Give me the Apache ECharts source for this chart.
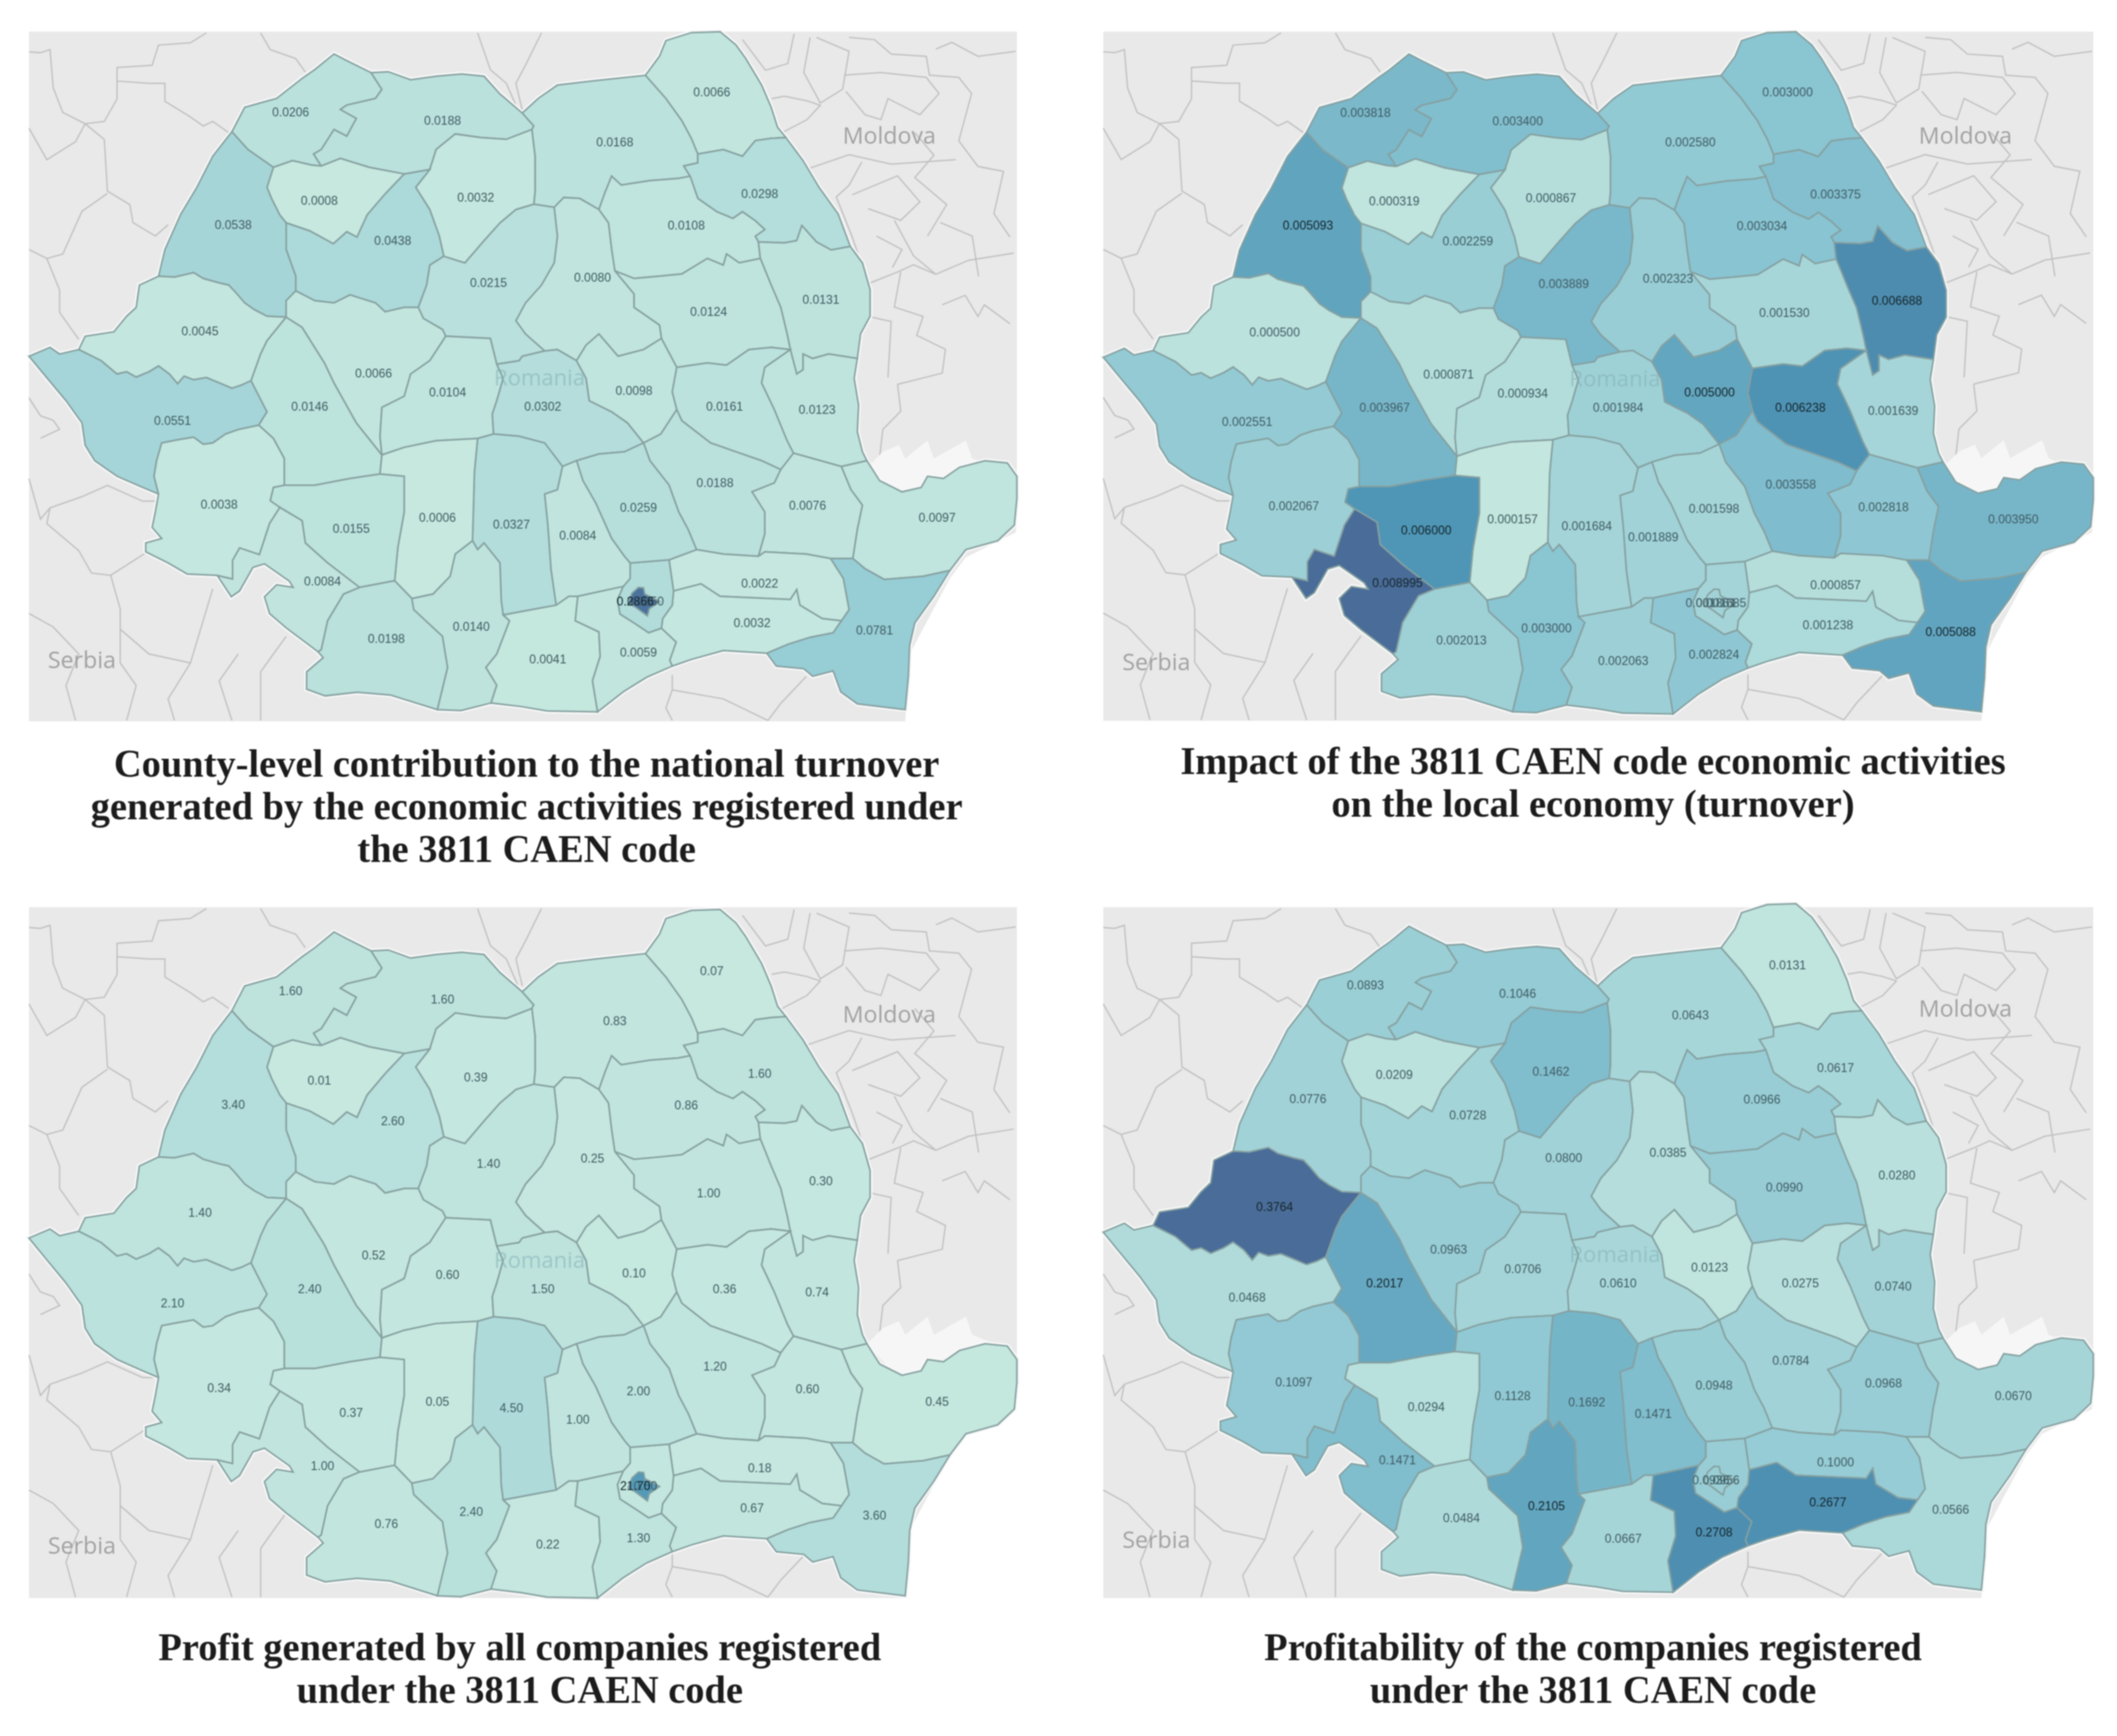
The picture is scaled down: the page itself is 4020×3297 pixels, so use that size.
<!DOCTYPE html>
<html>
<head>
<meta charset="utf-8">
<title>3811 CAEN code maps</title>
<script src="https://cdn.jsdelivr.net/npm/echarts@6/dist/echarts.min.js"></script>
<style>
html, body { margin: 0; padding: 0; background: #fff; }
#chart { width: 4020px; height: 3297px; filter: blur(1.3px); }
</style>
</head>
<body>
<div id="chart"></div>
<script>
var counties = ['Satu Mare', 'Maramures', 'Suceava', 'Botosani', 'Iasi', 'Neamt', 'Vaslui', 'Bacau', 'Harghita', 'Mures',
    'Bistrita-Nasaud', 'Salaj', 'Cluj', 'Bihor', 'Arad', 'Timis', 'Hunedoara', 'Alba', 'Sibiu', 'Brasov',
    'Covasna', 'Vrancea', 'Galati', 'Buzau', 'Braila', 'Tulcea', 'Constanta', 'Ialomita', 'Calarasi', 'Ilfov',
    'Prahova', 'Dambovita', 'Arges', 'Valcea', 'Gorj', 'Mehedinti', 'Caras-Severin', 'Dolj', 'Olt', 'Teleorman',
    'Giurgiu', 'Bucuresti'];
var turnoverShare = [0.0206, 0.0188, 0.0168, 0.0066, 0.0298, 0.0108, 0.0131, 0.0124, 0.0080, 0.0215,
    0.0032, 0.0008, 0.0438, 0.0538, 0.0045, 0.0551, 0.0146, 0.0066, 0.0104, 0.0302,
    0.0098, 0.0161, 0.0123, 0.0188, 0.0076, 0.0097, 0.0781, 0.0022, 0.0032, 0.0350,
    0.0259, 0.0084, 0.0327, 0.0006, 0.0155, 0.0084, 0.0038, 0.0198, 0.0140, 0.0041,
    0.0059, 0.2866];
var localImpact = [0.003818, 0.003400, 0.002580, 0.003000, 0.003375, 0.003034, 0.006688, 0.001530, 0.002323, 0.003889,
    0.000867, 0.000319, 0.002259, 0.005093, 0.000500, 0.002551, 0.003967, 0.000871, 0.000934, 0.001984,
    0.005000, 0.006238, 0.001639, 0.003558, 0.002818, 0.003950, 0.005088, 0.000857, 0.001238, 0.001685,
    0.001598, 0.001889, 0.001684, 0.000157, 0.006000, 0.008995, 0.002067, 0.002013, 0.003000, 0.002063,
    0.002824, 0.001861];
var profit = [1.60, 1.60, 0.83, 0.07, 1.60, 0.86, 0.30, 1.00, 0.25, 1.40,
    0.39, 0.01, 2.60, 3.40, 1.40, 2.10, 2.40, 0.52, 0.60, 1.50,
    0.10, 0.36, 0.74, 1.20, 0.60, 0.45, 3.60, 0.18, 0.67, 0.50,
    2.00, 1.00, 4.50, 0.05, 0.37, 1.00, 0.34, 0.76, 2.40, 0.22,
    1.30, 21.70];
var profitability = [0.0893, 0.1046, 0.0643, 0.0131, 0.0617, 0.0966, 0.0280, 0.0990, 0.0385, 0.0800,
    0.1462, 0.0209, 0.0728, 0.0776, 0.3764, 0.0468, 0.2017, 0.0963, 0.0706, 0.0610,
    0.0123, 0.0275, 0.0740, 0.0784, 0.0968, 0.0670, 0.0566, 0.1000, 0.2677, 0.0956,
    0.0948, 0.1471, 0.1692, 0.1128, 0.0294, 0.1471, 0.1097, 0.0484, 0.2105, 0.0667,
    0.2708, 0.0936];
var titles = ['County-level contribution to the national turnover\ngenerated by the economic activities registered under\nthe 3811 CAEN code',
    'Impact of the 3811 CAEN code economic activities\non the local economy (turnover)',
    'Profit generated by all companies registered\nunder the 3811 CAEN code',
    'Profitability of the companies registered\nunder the 3811 CAEN code'];

// shared county borders; a minus in a ring means the arc runs backwards
var arcs = {
    smN: [[330,245],[350,190],[375,180],[400,170],[440,125],[460,105],[490,70],[510,85],[548,112]],
    mmN: [[548,112],[575,110],[610,128],[650,120],[690,115],[725,120],[750,160],[785,203]],
    mmE: [[785,203],[803,232],[800,240]],
    svN: [[785,203],[810,170],[840,140],[900,130],[978,118]],
    btN: [[978,118],[1000,75],[1010,40],[1050,22],[1095,20],[1120,50],[1135,80],[1160,140],[1175,190],[1185,235],[1198,258]],
    isE: [[1198,258],[1225,310],[1250,370],[1280,430],[1299,503]],
    vsE: [[1299,503],[1318,540],[1330,600],[1330,660],[1315,700],[1310,755]],
    glE: [[1310,755],[1305,800],[1312,860],[1310,920],[1318,965],[1325,985]],
    tlN: [[1325,985],[1345,1030],[1380,1055],[1410,1045],[1420,1020],[1445,1025],[1470,1000],[1510,985],[1545,990],[1560,1020],[1560,1070],[1556,1130],[1530,1165],[1480,1185],[1455,1232]],
    ctE: [[1455,1232],[1430,1290],[1400,1350],[1392,1400],[1390,1470],[1385,1545]],
    ctS: [[1385,1545],[1310,1532],[1284,1505],[1272,1458],[1240,1470],[1226,1453],[1183,1447],[1168,1418]],
    clS: [[1168,1418],[1100,1412],[1050,1432],[1020,1447]],
    grS: [[1020,1447],[980,1472],[943,1505],[903,1550]],
    trS: [[903,1550],[824,1548],[783,1538],[736,1530]],
    otS: [[736,1530],[689,1547],[652,1545]],
    djS: [[652,1545],[578,1512],[526,1506],[476,1514],[447,1499],[447,1460],[473,1428],[465,1415]],
    mhW: [[465,1415],[415,1361],[389,1329],[381,1291],[400,1264],[426,1270],[420,1256],[381,1217],[363,1225],[342,1278],[329,1291],[307,1243]],
    csW: [[307,1243],[260,1240],[230,1215],[195,1190],[195,1170],[220,1160],[205,1135],[210,1100],[215,1060]],
    tmW: [[215,1060],[190,1045],[150,1020],[115,985],[100,950],[95,900],[70,850],[35,790],[12,750],[45,730],[60,745],[90,735]],
    arN: [[90,735],[100,705],[145,695],[165,660],[180,640],[185,590],[215,570]],
    bhW: [[215,570],[225,510],[250,430],[275,370],[300,300],[330,245]],
    smbh: [[330,245],[355,285],[395,325]],
    sjtop: [[395,325],[425,310],[455,320],[470,322]],
    smmm: [[548,112],[565,150],[555,170],[510,185],[500,195],[525,215],[510,255],[490,240],[470,285],[458,295],[470,322]],
    mmsj: [[470,322],[500,305],[545,325],[600,340]],
    mmcj: [[600,340],[640,330]],
    mmbn: [[640,330],[650,285],[680,250],[720,258],[760,262],[800,240]],
    bnsv: [[800,240],[805,300],[805,380],[803,408]],
    bhsj: [[395,325],[385,370],[392,395],[405,432],[415,450]],
    sjcj: [[415,450],[452,468],[489,497],[510,470],[526,482],[542,432],[570,385],[600,340]],
    bhcj: [[415,450],[415,510],[430,570],[430,603]],
    bhab: [[430,603],[415,625],[415,662]],
    bhar: [[215,570],[240,572],[270,562],[285,575],[310,585],[325,590],[335,605],[350,630],[365,645],[385,660],[415,662]],
    cjab: [[430,603],[460,625],[490,630],[515,612],[555,630],[570,650],[600,640],[622,640]],
    cjbn: [[640,330],[618,370],[640,420],[655,480],[662,525]],
    cjms: [[662,525],[640,545],[635,590],[622,640]],
    bnms: [[803,408],[775,420],[750,450],[725,490],[695,540],[662,525]],
    msab: [[622,640],[630,665],[660,690],[665,705]],
    mssb: [[665,705],[735,710],[745,768]],
    msbv: [[745,768],[780,760],[785,750],[820,738]],
    svms: [[803,408],[835,415]],
    mshr: [[835,415],[840,480],[835,540],[815,590],[790,630],[775,670],[790,700],[820,738]],
    svhr: [[835,415],[850,393],[875,395],[905,420]],
    hrnt: [[905,420],[920,450],[925,510],[930,558]],
    svnt: [[905,420],[915,380],[925,345],[940,365],[985,355],[1030,350],[1048,345]],
    svis: [[1048,345],[1038,322],[1060,315],[1060,295]],
    svbt: [[978,118],[1010,170],[1035,220],[1050,260],[1060,295]],
    btis: [[1060,295],[1100,285],[1130,300],[1150,265],[1175,260],[1198,258]],
    ntis: [[1048,345],[1060,395],[1090,425],[1115,440],[1130,425],[1150,445],[1165,465],[1150,480],[1155,493]],
    isvs: [[1155,493],[1196,495],[1215,490],[1223,456],[1246,493],[1269,511],[1299,503]],
    ntvs: [[1155,493],[1158,530]],
    ntbc: [[930,558],[960,575],[1000,570],[1035,565],[1075,530],[1100,545],[1105,520],[1125,540],[1158,530]],
    vsbc: [[1158,530],[1175,590],[1190,640],[1200,700],[1205,735]],
    vsgl: [[1205,735],[1215,790],[1225,780],[1225,745],[1240,755],[1265,745],[1310,755]],
    hrbc: [[930,558],[960,610],[960,640],[1000,680],[1003,710]],
    cvbc: [[1003,710],[1027,775]],
    bcvn: [[1027,775],[1075,765],[1105,770],[1140,735],[1175,730],[1205,735]],
    hrbv: [[820,738],[840,735],[870,760]],
    hrcv: [[870,760],[885,725],[905,700],[935,750],[975,735],[1003,710]],
    cvbv: [[870,760],[885,800],[890,850],[925,875],[950,900],[975,945]],
    cvvn: [[1027,775],[1020,830],[1027,870]],
    cvbz: [[1027,870],[1002,925],[975,945]],
    glvn: [[1205,735],[1165,775],[1160,810],[1180,870],[1200,940],[1210,968]],
    vnbz: [[1027,870],[1035,895],[1080,945],[1120,965],[1160,985],[1190,1005]],
    vnbr: [[1190,1005],[1210,968]],
    glbr: [[1210,968],[1240,980],[1285,998]],
    gltl: [[1285,998],[1325,985]],
    brtl: [[1285,998],[1300,1050],[1318,1085],[1310,1140],[1303,1205]],
    brct: [[1268,1205],[1303,1205]],
    tlct: [[1303,1205],[1322,1228],[1352,1252],[1413,1245],[1455,1232]],
    bzbr: [[1190,1005],[1180,1035],[1145,1055],[1165,1100],[1165,1150],[1155,1200]],
    bzil: [[1058,1185],[1100,1195],[1155,1200]],
    bril: [[1155,1200],[1165,1190],[1230,1195],[1268,1205]],
    ilct: [[1268,1205],[1288,1250],[1297,1320],[1285,1345]],
    bvdb: [[848,998],[870,985]],
    bvph: [[870,985],[905,970],[945,965],[975,945]],
    phbz: [[975,945],[985,985],[1015,1040],[1030,1100],[1045,1140],[1058,1185]],
    phil: [[1058,1185],[1015,1208]],
    phif: [[1015,1208],[954,1215]],
    phdb: [[870,985],[880,1030],[900,1080],[925,1160],[945,1200],[954,1215]],
    bvag: [[740,925],[780,930],[820,945],[848,998]],
    bvsb: [[745,768],[755,800],[745,850],[738,880],[740,925]],
    sbag: [[740,925],[715,935]],
    sbvl: [[715,935],[650,940],[600,955],[565,972]],
    sbab: [[665,705],[640,760],[610,790],[600,840],[565,865],[562,930],[565,972]],
    abhd: [[415,662],[440,685],[475,765],[490,810],[525,900],[565,972]],
    hdvl: [[565,972],[562,1015]],
    vlag: [[715,935],[710,1010],[707,1165]],
    vlgj: [[562,1015],[600,1020],[600,1100],[590,1180],[585,1255]],
    hdgj: [[562,1015],[515,1025],[460,1040],[412,1040]],
    hdcs: [[412,1040],[412,980],[395,935],[372,905]],
    hdtm: [[372,905],[385,875],[360,805]],
    hdar: [[360,805],[375,745],[385,715],[415,662]],
    artm: [[90,735],[125,760],[150,790],[165,785],[180,797],[200,785],[215,772],[232,790],[245,812],[255,795],[270,803],[290,798],[310,810],[330,822],[345,815],[360,805]],
    tmcs: [[215,1060],[208,1020],[212,985],[220,945],[245,938],[270,932],[285,948],[300,945],[320,925],[340,915],[372,905]],
    csgj: [[412,1040],[395,1045],[390,1075],[405,1090]],
    csmh: [[405,1090],[389,1126],[373,1196],[342,1181],[331,1209],[331,1251],[307,1243]],
    gjmh: [[405,1090],[440,1120],[445,1170],[480,1215],[530,1270]],
    gjdj: [[530,1270],[585,1255]],
    mhdj: [[530,1270],[505,1285],[480,1345],[470,1410],[465,1415]],
    vldj: [[585,1255],[612,1295]],
    vlot: [[612,1295],[645,1285],[672,1245],[680,1195],[707,1165]],
    djot: [[612,1295],[615,1320],[660,1380],[668,1450],[652,1545]],
    agot: [[707,1165],[715,1185],[725,1170],[750,1215],[752,1300],[755,1332]],
    agtr: [[755,1332],[800,1320],[838,1310]],
    agdb: [[848,998],[840,1050],[820,1060],[825,1130],[830,1230],[838,1310]],
    dbtr: [[838,1310],[858,1290],[872,1290]],
    otr: [[755,1332],[765,1345],[745,1420],[728,1450],[745,1490],[736,1530]],
    dbgr: [[872,1290],[943,1268]],
    dbif: [[943,1268],[954,1250],[954,1215]],
    trgr: [[872,1290],[868,1345],[905,1370],[907,1425],[895,1480],[903,1550]],
    grif: [[1003,1362],[983,1372],[962,1352],[938,1330],[934,1298],[943,1268]],
    grcl: [[1003,1362],[1026,1393],[1016,1434],[1020,1447]],
    ifil: [[1015,1208],[1022,1278]],
    ifcl: [[1022,1278],[1020,1310],[1005,1340],[1003,1362]],
    ilcl: [[1022,1278],[1065,1262],[1095,1290],[1205,1297],[1215,1275],[1220,1310],[1255,1340],[1285,1345]],
    ctcl: [[1285,1345],[1272,1372],[1236,1382],[1201,1398],[1168,1418]]
};
var rings = {
    'Satu Mare': 'smN smmm -sjtop -smbh',
    'Maramures': 'mmN mmE -mmbn -mmcj -mmsj -smmm',
    'Suceava': 'svN svbt -svis -svnt -svhr -svms -bnsv -mmE',
    'Botosani': 'btN -btis -svbt',
    'Iasi': 'isE -isvs -ntis svis btis',
    'Neamt': 'ntis ntvs -ntbc -hrnt svnt',
    'Vaslui': 'vsE -vsgl -vsbc -ntvs isvs',
    'Bacau': 'ntbc vsbc -bcvn -cvbc -hrbc',
    'Harghita': 'svhr hrnt hrbc -hrcv -hrbv -mshr',
    'Mures': 'svms mshr -msbv -mssb -msab -cjms -bnms',
    'Bistrita-Nasaud': 'mmbn bnsv bnms -cjbn',
    'Salaj': 'sjtop mmsj -sjcj -bhsj',
    'Cluj': 'sjcj mmcj cjbn cjms -cjab -bhcj',
    'Bihor': 'smbh bhsj bhcj bhab -bhar bhW',
    'Arad': 'arN bhar -hdar -artm',
    'Timis': 'artm -hdtm -tmcs tmW',
    'Hunedoara': 'abhd hdvl hdgj hdcs hdtm hdar',
    'Alba': 'cjab msab sbab -abhd -bhab',
    'Sibiu': 'mssb bvsb sbag sbvl -sbab',
    'Brasov': 'msbv hrbv cvbv -bvph -bvdb -bvag -bvsb',
    'Covasna': 'hrcv cvbc cvvn cvbz -cvbv',
    'Vrancea': 'bcvn glvn -vnbr -vnbz -cvvn',
    'Galati': 'vsgl glE -gltl -glbr -glvn',
    'Buzau': 'vnbz bzbr -bzil -phbz -cvbz',
    'Braila': 'vnbr glbr brtl -brct -bril -bzbr',
    'Tulcea': 'gltl tlN -tlct -brtl',
    'Constanta': 'brct tlct ctE ctS -ctcl -ilct',
    'Ialomita': '-phil bzil bril ilct -ilcl -ifil',
    'Calarasi': 'ilcl ctcl clS -grcl -ifcl',
    'Ilfov': '-phif ifil ifcl grif dbif',
    'Prahova': 'bvph phbz phil phif -phdb',
    'Dambovita': 'bvdb phdb -dbif -dbgr -dbtr -agdb',
    'Arges': 'bvag agdb -agtr -agot -vlag -sbag',
    'Valcea': '-sbvl vlag -vlot -vldj -vlgj -hdvl',
    'Gorj': '-hdgj vlgj -gjdj -gjmh -csgj',
    'Mehedinti': 'gjmh mhdj mhW -csmh',
    'Caras-Severin': 'tmcs -hdcs csgj csmh csW',
    'Dolj': 'gjdj vldj djot djS -mhdj',
    'Olt': 'vlot agot otr otS -djot',
    'Teleorman': 'agtr dbtr trgr trS -otr',
    'Giurgiu': 'dbgr -grif grcl grS -trgr'
};
var bucharestRing = [[967,1270],[975,1271],[977,1285],[990,1294],[1000,1302],[984,1318],[981,1334],[962,1314],[951,1305],[957,1283],[967,1270]];
// where each county's number sits
var labelAt = {
    'Satu Mare': [422,203], 'Maramures': [660,222], 'Suceava': [930,270], 'Botosani': [1082,158], 'Iasi': [1157,387],
    'Neamt': [1042,457], 'Vaslui': [1253,625], 'Bacau': [1077,652], 'Harghita': [895,575], 'Mures': [732,587],
    'Bistrita-Nasaud': [712,395], 'Salaj': [467,402], 'Cluj': [582,492], 'Bihor': [332,456], 'Arad': [280,696],
    'Timis': [237,897], 'Hunedoara': [452,865], 'Alba': [552,790], 'Sibiu': [668,833], 'Brasov': [817,865],
    'Covasna': [960,830], 'Vrancea': [1102,865], 'Galati': [1247,872], 'Buzau': [1087,1037], 'Braila': [1232,1088],
    'Tulcea': [1435,1115], 'Constanta': [1337,1368], 'Ialomita': [1157,1263], 'Calarasi': [1145,1352], 'Ilfov': [978,1303],
    'Prahova': [967,1092], 'Dambovita': [872,1155], 'Arges': [768,1130], 'Valcea': [652,1115], 'Gorj': [517,1140],
    'Mehedinti': [472,1258], 'Caras-Severin': [310,1085], 'Dolj': [572,1387], 'Olt': [705,1360], 'Teleorman': [825,1433],
    'Giurgiu': [967,1418], 'Bucuresti': [962,1303]
};
// neighbouring countries' faint borders
var neighbourLines = [
    [[12,60],[30,62],[45,55],[50,140],[65,195],[100,220],[130,215],[150,165],[150,95],[205,90],[215,45],[265,40],[290,18]],
    [[150,125],[200,130],[225,130],[225,170],[265,205],[285,225],[300,215],[325,240]],
    [[100,220],[130,255],[135,370],[170,400],[175,440],[210,470],[230,445]],
    [[135,375],[95,415],[65,510],[40,520],[60,590],[60,640],[90,700]],
    [[12,230],[40,300],[85,260],[100,220]],
    [[12,500],[40,520]],
    [[375,18],[390,55],[430,75],[445,105]],
    [[715,18],[735,100],[760,130],[780,195]],
    [[815,18],[790,90],[775,130],[785,190]],
    [[12,830],[30,870],[50,880],[60,900],[30,920]],
    [[12,1010],[30,1100],[45,1075],[95,1050],[135,1025],[190,1060],[215,1060]],
    [[45,1075],[40,1110],[90,1170],[110,1220],[140,1225],[195,1175]],
    [[140,1225],[155,1300],[155,1420],[180,1470],[165,1548]],
    [[12,1310],[50,1340],[90,1400],[70,1470],[85,1548]],
    [[155,1345],[200,1400],[265,1420],[300,1255]],
    [[265,1420],[230,1500],[240,1548]],
    [[415,1361],[395,1400],[375,1440],[375,1548]],
    [[340,1400],[310,1460],[330,1548]],
    [[1020,1447],[1020,1480],[1010,1520],[1020,1548]],
    [[1020,1480],[1100,1500],[1170,1548]],
    [[1230,1450],[1190,1510],[1170,1548]],
    [[1130,33],[1166,101],[1201,86],[1211,20]],
    [[1176,164],[1196,159],[1231,169],[1252,179],[1231,211],[1196,237],[1186,247]],
    [[1236,28],[1226,106],[1252,174],[1287,143],[1297,59],[1246,28]],
    [[1289,112],[1347,106],[1418,117],[1438,153],[1408,200],[1358,164],[1347,211],[1322,200],[1292,148]],
    [[1297,28],[1337,33],[1363,65],[1418,70],[1423,112],[1469,117],[1489,153],[1469,258],[1499,315],[1539,326],[1524,420],[1549,472]],
    [[1433,54],[1458,39],[1499,70],[1558,59]],
    [[1221,326],[1297,289],[1363,310],[1464,300]],
    [[1317,305],[1297,357],[1277,383],[1302,472],[1327,576],[1373,550],[1398,534],[1433,555],[1484,524],[1555,508]],
    [[1327,409],[1378,435],[1408,394],[1373,336],[1302,378]],
    [[1368,435],[1398,514],[1433,555]],
    [[1378,550],[1368,628],[1413,649],[1403,691],[1448,722],[1443,775],[1373,800]],
    [[1443,623],[1479,602],[1499,649],[1509,623],[1549,665]],
    [[1327,649],[1363,660],[1358,785]],
    [[1373,800],[1378,860],[1350,900],[1345,960]],
    [[1400,240],[1430,290],[1400,340],[1450,400],[1420,470]],
    [[1340,470],[1380,500],[1365,540]],
    [[1440,440],[1490,470],[1500,560]]
];
var seaRing = [[1385,1552],[1392,1400],[1455,1232],[1480,1185],[1558,1130],[1562,1090],[1562,1552],[1385,1552]];
var shoreRing = [[1325,985],[1350,950],[1375,935],[1385,965],[1420,925],[1430,965],[1480,925],[1490,965],[1525,985],[1470,1030],[1380,1070],[1325,985]];

var frame = [[12, 15], [1560, 1550]];
// px boxes: panels are the grey pictures, mapBoxes hold the counties (each crop sits a bit differently)
var panels = [
    { left: 55, top: 60, width: 1876, height: 1310 },
    { left: 2095, top: 60, width: 1880, height: 1309 },
    { left: 55, top: 1723, width: 1876, height: 1312 },
    { left: 2095, top: 1723, width: 1880, height: 1312 }
];
var mapBoxes = [
    { left: 55, top: 56, width: 1876, height: 1296 },
    { left: 2095, top: 56, width: 1880, height: 1300 },
    { left: 55, top: 1723, width: 1876, height: 1312 },
    { left: 2095, top: 1712, width: 1880, height: 1312 }
];
var decimals = [4, 6, 2, 4];
var maxValues = [0.30, 0.009, 34, 0.3764];
var panelValues = [turnoverShare, localImpact, profit, profitability];
var titleCenter = [1000, 3025, 987, 3025];
var titleTop = [1416, 1411, 3094, 3094];

function ringPoints(spec) {
    var pts = [];
    spec.split(' ').forEach(function (key) {
        var arc = key.charAt(0) === '-' ? arcs[key.slice(1)].slice().reverse() : arcs[key];
        pts = pts.concat(pts.length ? arc.slice(1) : arc);
    });
    return pts;
}
function feature(name, type, coordinates, cp) {
    return { type: 'Feature', properties: { name: name, cp: cp }, geometry: { type: type, coordinates: coordinates } };
}

var countyFeatures = counties.filter(function (c) { return rings[c]; }).map(function (c) {
    return feature(c, 'Polygon', [ringPoints(rings[c])], labelAt[c]);
});
countyFeatures.push(feature('Bucuresti', 'Polygon', [bucharestRing], labelAt['Bucuresti']));

var outline = ringPoints('smN mmN svN btN isE vsE glE tlN ctE ctS clS grS trS otS djS mhW csW tmW arN bhW');
var backdropFeatures = [
    feature('land', 'Polygon', [[[12,15],[1560,15],[1560,1550],[12,1550],[12,15]]]),
    feature('lines', 'MultiLineString', neighbourLines),
    feature('sea', 'Polygon', [seaRing]),
    feature('shore', 'Polygon', [shoreRing])
];
var flat = { project: function (p) { return p; }, unproject: function (p) { return p; } };

var series = [], visualMaps = [], titleList = [], graphics = [];
var palette = ['#c6e8df', '#8ac5d2', '#4f96b6', '#4a6c98'];

panels.forEach(function (box, i) {
    echarts.registerMap('backdrop' + i, { type: 'FeatureCollection', features: backdropFeatures });
    series.push({
        type: 'map', map: 'backdrop' + i, projection: flat, boundingCoords: frame, silent: true,
        left: box.left, top: box.top, width: box.width, height: box.height, z: 1,
        label: { show: false }, emphasis: { disabled: true }, select: { disabled: true },
        data: [
            { name: 'land', itemStyle: { areaColor: '#e9e9e9', borderWidth: 0 } },
            { name: 'lines', itemStyle: { areaColor: 'none', borderColor: '#c0c0c0', borderWidth: 2.5 } },
            { name: 'sea', itemStyle: { areaColor: '#ffffff', borderWidth: 0 } },
            { name: 'shore', itemStyle: { areaColor: '#f6f6f6', borderWidth: 0 } }
        ]
    });
});
// thin white glow round the country, kept on the same box as the counties
panels.forEach(function (box, i) {
    var m = mapBoxes[i];
    echarts.registerMap('halo' + i, { type: 'FeatureCollection', features: [feature('halo', 'Polygon', [outline])] });
    series.push({
        type: 'map', map: 'halo' + i, projection: flat, boundingCoords: frame, silent: true,
        left: m.left, top: m.top, width: m.width, height: m.height, z: 2,
        label: { show: false }, emphasis: { disabled: true }, select: { disabled: true },
        data: [{ name: 'halo', itemStyle: { areaColor: '#ffffff', borderColor: '#f8f8f8', borderWidth: 9 } }]
    });
});
panels.forEach(function (box, i) {
    var m = mapBoxes[i];
    echarts.registerMap('romania' + i, { type: 'FeatureCollection', features: countyFeatures });
    series.push({
        type: 'map', map: 'romania' + i, projection: flat, boundingCoords: frame, silent: true,
        left: m.left, top: m.top, width: m.width, height: m.height, z: 3,
        itemStyle: { borderColor: '#86a0a0', borderWidth: 3 },
        emphasis: { disabled: true }, select: { disabled: true },
        label: {
            show: true, fontFamily: 'Liberation Sans', fontSize: 23, color: '#405c63',
            formatter: function (p) { return p.value.toFixed(decimals[i]); }
        },
        data: counties.map(function (c, k) {
            var v = panelValues[i][k];
            // darker figures on the darkest counties, or they drown after the blur
            return v / maxValues[i] > 0.5 ? { name: c, value: v, label: { color: '#14252b' } } : { name: c, value: v };
        })
    });
    visualMaps.push({ show: false, seriesIndex: 8 + i, min: 0, max: maxValues[i], inRange: { color: palette } });
    titleList.push({
        text: titles[i], left: titleCenter[i], top: titleTop[i], textAlign: 'center', padding: 0,
        textStyle: { fontFamily: 'Liberation Serif', fontWeight: 'bold', fontSize: 73, lineHeight: 81, color: '#1c1c1c' }
    });
    var kx = box.width / 1548, ky = m.height / 1535;
    [['Moldova', 1360, 257, 44], ['Serbia', 95, 1437, 44]].forEach(function (t) {
        graphics.push({
            type: 'text', z: 5, x: box.left + (t[1] - 12) * kx, y: m.top + (t[2] - 15) * ky,
            style: { text: t[0], fill: '#a2a2a2', fontSize: t[3], fontFamily: 'Open Sans', textAlign: 'center', textVerticalAlign: 'middle' }
        });
    });
    graphics.push({
        type: 'text', z: 5, x: m.left + (812 - 12) * kx, y: m.top + (802 - 15) * ky,
        style: { text: 'Romania', fill: 'rgba(130,175,180,0.55)', fontSize: 42, fontFamily: 'Open Sans', textAlign: 'center', textVerticalAlign: 'middle' }
    });
});

var chart = echarts.init(document.getElementById('chart'));
chart.setOption({
    animation: false,
    backgroundColor: '#ffffff',
    title: titleList,
    visualMap: visualMaps,
    graphic: graphics,
    series: series
});
</script>
</body>
</html>
